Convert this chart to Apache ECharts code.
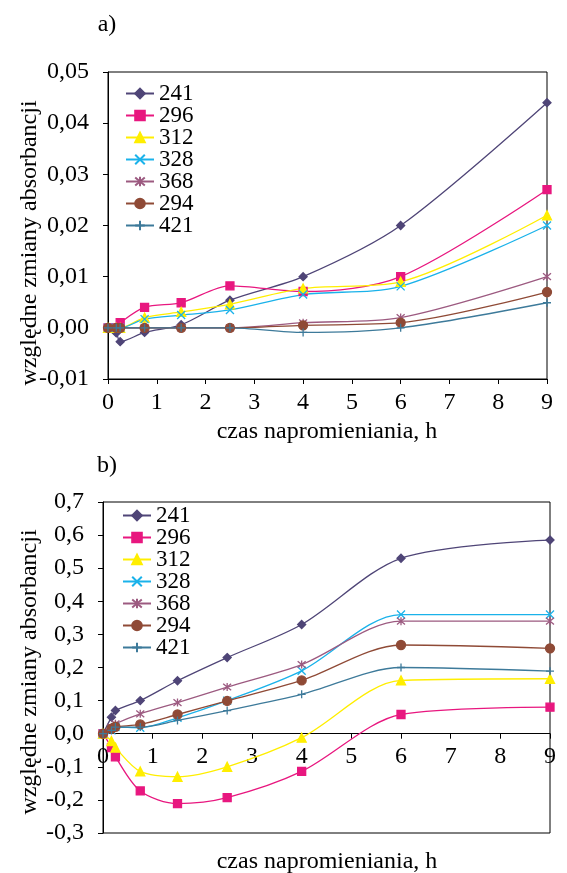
<!DOCTYPE html>
<html>
<head>
<meta charset="utf-8">
<script src="https://cdn.jsdelivr.net/npm/echarts@6/dist/echarts.min.js"></script>
<style>
  html, body { margin: 0; padding: 0; background: #fff; }
  #chart { width: 567px; height: 873px; }
</style>
</head>
<body>
<div id="chart"></div>
<script>
// time points (h)
const hours = [0, 0.17, 0.25, 0.75, 1.5, 2.5, 4, 6, 9];
const names = ['241', '296', '312', '328', '368', '294', '421'];

// panel a)
const a241 = [0, -0.001, -0.0027, -0.0009, 0.0006, 0.0054, 0.01, 0.02, 0.044];
const a296 = [0, 0, 0.001, 0.004, 0.0049, 0.0082, 0.0071, 0.01, 0.027];
const a312 = [0, 0, 0, 0.002, 0.0031, 0.0046, 0.0077, 0.009, 0.022];
const a328 = [0, 0, 0, 0.0017, 0.0025, 0.0035, 0.0065, 0.0081, 0.02];
const a368 = [0, 0, 0, 0, 0, 0, 0.001, 0.002, 0.01];
const a294 = [0, 0, 0, 0, 0, 0, 0.0005, 0.001, 0.007];
const a421 = [0, 0, 0, 0, 0, 0, -0.0009, 0, 0.0049];

// panel b)
const b241 = [0, 0.05, 0.07, 0.1, 0.16, 0.23, 0.33, 0.53, 0.585];
const b296 = [0, -0.042, -0.07, -0.173, -0.211, -0.193, -0.114, 0.058, 0.08];
const b312 = [0, -0.022, -0.042, -0.114, -0.13, -0.1, -0.012, 0.161, 0.166];
const b328 = [0, 0.01, 0.02, 0.018, 0.048, 0.1, 0.19, 0.36, 0.36];
const b368 = [0, 0.02, 0.03, 0.06, 0.094, 0.141, 0.209, 0.34, 0.34];
const b294 = [0, 0.015, 0.021, 0.028, 0.058, 0.099, 0.161, 0.268, 0.258];
const b421 = [0, 0.01, 0.02, 0.02, 0.04, 0.07, 0.119, 0.2, 0.189];

const FONT = 'Liberation Serif';

const styles = {
    '241': { color: '#4f4577', symbol: 'diamond', size: 8 },
    '296': { color: '#e8177f', symbol: 'rect', size: 8 },
    '312': { color: '#ffee00', symbol: 'triangle', size: 9 },
    '328': { color: '#1ab2ea', symbol: 'path://M0,0L10,10M10,0L0,10', size: 8 },
    '368': { color: '#9c5a80', symbol: 'path://M0,0L10,10M10,0L0,10M5,-1L5,11', size: 8 },
    '294': { color: '#8f4a36', symbol: 'circle', size: 9 },
    '421': { color: '#3d7a9a', symbol: 'path://M5,0L5,10M0,5L10,5', size: 8 }
};

function mkSeries(name, vals, idx) {
    const s = styles[name];
    return {
        name: name,
        type: 'line',
        xAxisIndex: idx,
        yAxisIndex: idx,
        smooth: 0.3,
        symbol: s.symbol,
        symbolSize: s.size,
        lineStyle: { color: s.color, width: 1.3 },
        itemStyle: { color: s.color, borderColor: s.color, borderWidth: 1.3 },
        data: hours.map((h, i) => [h, vals[i]]),
        animation: false
    };
}

const fmt = (digits) => (v) => (Math.round(v * 1000) / 1000).toFixed(digits).replace('.', ',');

// x axis: offset moves it up from the grid bottom (panel b sits on y = 0)
function xAx(idx, offset, margin) {
    return {
        type: 'value', gridIndex: idx, min: 0, max: 9, interval: 1,
        position: 'bottom', offset: offset,
        axisLine: { onZero: false, lineStyle: { color: '#000', width: 1 } },
        axisTick: { length: 5, lineStyle: { color: '#000' } },
        splitLine: { show: false },
        axisLabel: { color: '#000', fontFamily: FONT, fontSize: 24, margin: margin }
    };
}

function yAx(idx, min, max, interval, digits) {
    return {
        type: 'value', gridIndex: idx, min: min, max: max, interval: interval,
        axisLine: { show: true, lineStyle: { color: '#000', width: 1 } },
        axisTick: { show: true, length: 5, lineStyle: { color: '#000' } },
        splitLine: { show: false },
        axisLabel: { color: '#000', fontFamily: FONT, fontSize: 24, margin: 19, formatter: fmt(digits) }
    };
}

function legend(left, top) {
    return {
        orient: 'vertical', left: left, top: top, padding: 0,
        itemWidth: 28, itemHeight: 12, itemGap: -1,
        textStyle: { color: '#000', fontFamily: FONT, fontSize: 23 },
        data: names
    };
}

const seriesA = [a241, a296, a312, a328, a368, a294, a421].map((d, i) => mkSeries(names[i], d, 0));
const seriesB = [b241, b296, b312, b328, b368, b294, b421].map((d, i) => mkSeries(names[i], d, 1));

const txt = (x, y, text, rot) => ({
    type: 'text', x: x, y: y, rotation: rot || 0,
    style: {
        text: text, fill: '#000', font: '24px "' + FONT + '"',
        textAlign: 'center', textVerticalAlign: 'middle'
    }
});

const chart = echarts.init(document.getElementById('chart'), null, { renderer: 'canvas' });
chart.setOption({
    backgroundColor: '#fff',
    animation: false,
    grid: [
        { left: 108, top: 72, width: 439, height: 307, show: true, borderColor: '#000', borderWidth: 1, backgroundColor: 'transparent' },
        { left: 103, top: 502, width: 447, height: 331, show: true, borderColor: '#000', borderWidth: 1, backgroundColor: 'transparent' }
    ],
    xAxis: [xAx(0, 0, 12), xAx(1, -99.3, 11)],
    yAxis: [yAx(0, -0.01, 0.05, 0.01, 2), yAx(1, -0.3, 0.7, 0.1, 1)],
    legend: [legend(125, 82), legend(122, 504)],
    graphic: [
        txt(107, 25, 'a)'),
        txt(107, 466, 'b)'),
        txt(30, 243, 'względne zmiany absorbancji', Math.PI / 2),
        txt(30, 672, 'względne zmiany absorbancji', Math.PI / 2),
        txt(327, 432, 'czas napromieniania, h'),
        txt(327, 862, 'czas napromieniania, h')
    ],
    series: seriesA.concat(seriesB)
});
</script>
</body>
</html>
